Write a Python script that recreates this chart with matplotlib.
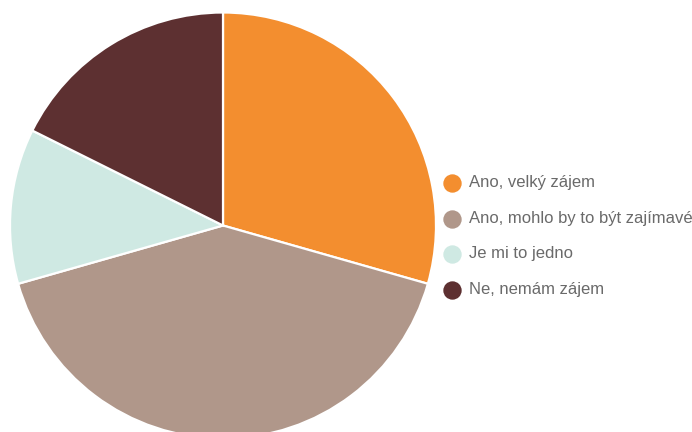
import matplotlib.pyplot as plt

labels = ['Ano, velký zájem', 'Ano, mohlo by to být zajímavé', 'Je mi to jedno', 'Ne, nemám zájem']
values = [5, 7, 2, 3]
colors = ['#F38E2F', '#B0978A', '#CFE9E3', '#5D3031']

plt.rcParams['font.family'] = ['Liberation Sans', 'DejaVu Sans']

W, H = 692, 432
fig = plt.figure(figsize=(W / 100, H / 100), dpi=100)
ax = fig.add_axes([0, 0, 1, 1])

ax.pie(values, colors=colors, startangle=90, counterclock=False,
       center=(223, H - 225.5), radius=213, frame=True,
       wedgeprops=dict(edgecolor='white', linewidth=1.6))
ax.set_xlim(0, W)
ax.set_ylim(0, H)
ax.set_aspect('equal')
ax.axis('off')

# legend
y0, step = 183, 35.7
for i, (lab, c) in enumerate(zip(labels, colors)):
    y = H - (y0 + i * step)
    ax.scatter([452], [y], s=175, color=c, linewidths=0)
    ax.text(469, y + 0.5, lab, fontsize=12, color='#6a6a6a', va='center', ha='left')

fig.savefig('out.png', dpi=100)
